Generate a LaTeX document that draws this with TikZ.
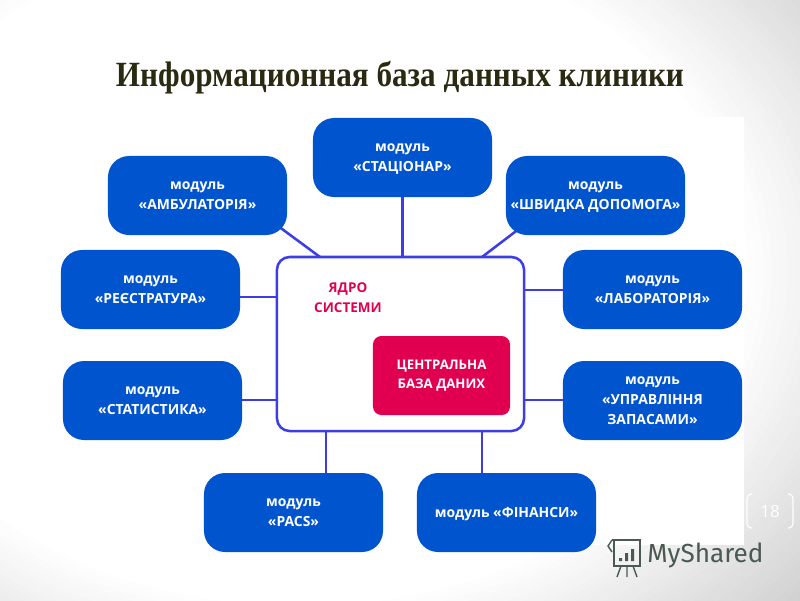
\documentclass[tikz,border=0pt]{standalone}
\usepackage{fontspec}
\setmainfont{Open Sans}
\newfontfamily\titlefont[FakeStretch=0.88]{Liberation Serif}
\newfontfamily\markfont{Fira Sans}
\usetikzlibrary{positioning, backgrounds}
\definecolor{modblue}{HTML}{0055CF}
\definecolor{linkblue}{HTML}{3D3DE6}
\definecolor{corepink}{HTML}{E0004F}
\definecolor{markgray}{HTML}{4A5A52}
\definecolor{titledark}{HTML}{2A2A12}
\tikzstyle{modul} = [fill=modblue, text=white, rectangle, rounded corners=15, minimum width=4.475cm, minimum height=1.975cm, align=center, font=\fontsize{9.9}{14}\selectfont\bfseries, inner sep=0pt, text depth=-1pt]
\tikzstyle{yadro} = [draw=linkblue, fill=white, line width=1.8pt, rectangle, rounded corners=9, minimum width=6.175cm, minimum height=4.35cm]
\tikzstyle{baza} = [fill=corepink, text=white, rectangle, rounded corners=6, minimum width=3.425cm, minimum height=1.975cm, align=center, font=\fontsize{9.4}{14}\selectfont\bfseries, inner sep=0pt]
\tikzstyle{svyaz} = [draw=linkblue, line width=1.8pt]
\begin{document}
\begin{tikzpicture}[x=0.025cm, y=-0.025cm]
	\useasboundingbox (0,0) rectangle (800,600);
	\node [font=\titlefont\fontsize{25.2}{29}\selectfont\bfseries, text=titledark] (title) at (400,78) {Информационная база данных клиники};
	\node [yadro] (core) at (400.5,344) {};
	\node [baza] (db) at (441.5,375.5) {ЦЕНТРАЛЬНА\\БАЗА ДАНИХ};
	\node [text=corepink, align=center, font=\fontsize{9.6}{14}\selectfont\bfseries] (corelabel) at (348,298) {ЯДРО\\СИСТЕМИ};
	\node [modul] (stac) at (402.5,157.5) {модуль\\«СТАЦІОНАР»};
	\node [modul] (amb) at (197.5,195.5) {модуль\\«АМБУЛАТОРІЯ»};
	\node [modul] (shv) at (595.5,195.5) {модуль\\«ШВИДКА ДОПОМОГА»};
	\node [modul] (reestr) at (150.5,289.5) {модуль\\«РЕЄСТРАТУРА»};
	\node [modul] (lab) at (652.5,289.5) {модуль\\«ЛАБОРАТОРІЯ»};
	\node [modul] (stat) at (152.5,400.5) {модуль\\«СТАТИСТИКА»};
	\node [modul] (zap) at (652.5,400.5) {модуль\\«УПРАВЛІННЯ\\ЗАПАСАМИ»};
	\node [modul] (pacs) at (293.5,512.5) {модуль\\«PACS»};
	\node [modul] (fin) at (506.5,512.5) {модуль «ФІНАНСИ»};
	\coordinate (coreamb) at (320,257);
	\coordinate (coreshv) at (482,257);
	\coordinate (corepacs) at (326,431);
	\coordinate (corefin) at (482,431);
	\coordinate (corereestr) at (277,297);
	\coordinate (corelab) at (524,290);
	\coordinate (corestat) at (277,400);
	\coordinate (corezap) at (524,400);
	\begin{scope}[on background layer]
		% grey glow towards the corners of the slide
		\clip (0,0) rectangle (800,600);
		\foreach \i in {0,...,30} {
			\pgfmathsetmacro{\rx}{440+\i*8}
			\pgfmathsetmacro{\ry}{0.75*\rx}
			\pgfmathsetmacro{\gr}{\i*0.65}
			\fill[black!\gr, even odd rule] (-10,-10) rectangle (810,610) (300,270) ellipse [x radius=\rx, y radius=\ry];
		}
		\fill[white] (45,117) rectangle (744,545);
		\coordinate (ambin) at (260,212.7);
		\coordinate (shvin) at (530,220.5);
		\draw[svyaz] (ambin) -- (coreamb);
		\draw[svyaz] (shvin) -- (coreshv);
	\end{scope}
	\draw[svyaz] (stac) -- (stac |- core.north);
	\draw[svyaz] (corepacs) -- (corepacs |- pacs.north);
	\draw[svyaz] (corefin) -- (corefin |- fin.north);
	\draw[svyaz] (corereestr) -- (corereestr -| reestr.east);
	\draw[svyaz] (corelab) -- (corelab -| lab.west);
	\draw[svyaz] (corestat) -- (corestat -| stat.east);
	\draw[svyaz] (corezap) -- (corezap -| zap.west);
	% page number and watermark
	\node [text=white, font=\fontsize{12}{14}\selectfont] (page) at (770,511) {18};
	\draw[white, line width=0.8pt, rounded corners=3] (752,494) -- (747,494) -- (747,528) -- (752,528);
	\draw[white, line width=0.8pt, rounded corners=3] (788,494) -- (793,494) -- (793,528) -- (788,528);
	\node [text=markgray, font=\markfont\fontsize{18.6}{22}\selectfont, inner sep=0pt, anchor=west] (mark) at (647,555) {MyShared};
	\draw[markgray, line width=1pt] (612,540) -- (640,540) -- (640,566) -- (614,566) -- (614,540);
	\draw[markgray, line width=1pt] (612,540) -- (608,546) -- (612,552);
	\draw[markgray, line width=1pt] (621,566) -- (617,577) (627,566) -- (627,577) (633,566) -- (637,577);
	\fill[markgray] (619,558) rectangle (622,561) (625,553) rectangle (628,561) (631,549) rectangle (634,561);
\end{tikzpicture}
\end{document}
